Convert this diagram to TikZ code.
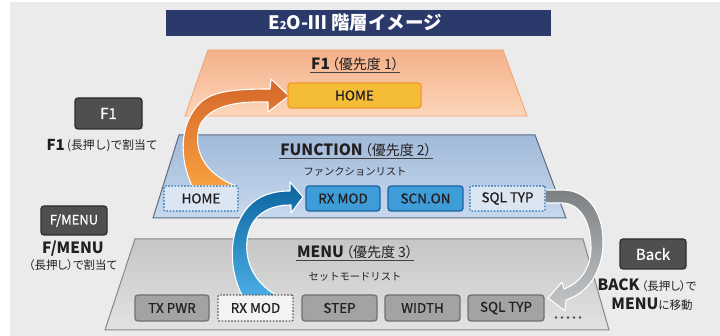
\documentclass[tikz,border=0pt]{standalone}
\usepackage{fontspec}
\setmainfont{Noto Sans CJK JP}
\newfontfamily\pp[RawFeature=+palt]{Noto Sans CJK JP}
\newfontfamily\med[FakeBold=0.6]{Noto Sans CJK JP}
\definecolor{bgc}{HTML}{EBEBEB}
\definecolor{navy}{HTML}{2B3A6B}
\definecolor{orTop}{HTML}{F3B08A}
\definecolor{orBot}{HTML}{FDD6B9}
\definecolor{orEdge}{HTML}{F4A26C}
\definecolor{blTop}{HTML}{A0BAD9}
\definecolor{blBot}{HTML}{C8D8EE}
\definecolor{blEdge}{HTML}{5D6B86}
\definecolor{grTop}{HTML}{C6C6C6}
\definecolor{grBot}{HTML}{E2E2E2}
\definecolor{grEdge}{HTML}{8E8480}
\definecolor{txt}{HTML}{231F20}
\definecolor{yel}{HTML}{F4BC37}
\definecolor{yelEdge}{HTML}{F39A2C}
\definecolor{bluFill}{HTML}{3E9CD8}
\definecolor{bluEdge}{HTML}{1A64A0}
\definecolor{dotFill}{HTML}{DCE6F2}
\definecolor{dotEdge}{HTML}{1C75BC}
\definecolor{gbFill}{HTML}{A3A3A3}
\definecolor{gbEdge}{HTML}{6F6F6F}
\definecolor{keyFill}{HTML}{4F4F4F}
\definecolor{keyEdge}{HTML}{2E2E2E}
\definecolor{aoTop}{HTML}{D5662A}
\definecolor{aoBot}{HTML}{F7A040}
\definecolor{abTop}{HTML}{0B649E}
\definecolor{abBot}{HTML}{4BAEE5}
\definecolor{agTop}{HTML}{7D8083}
\definecolor{agBot}{HTML}{C4C8CB}
\begin{document}
\begin{tikzpicture}[x=1pt,y=-1pt,
  box/.style={rounded corners=3pt, minimum height=25pt, minimum width=74pt, line width=1.3pt, inner sep=0pt, text=txt, font=\med\fontsize{13.5}{14}\selectfont},
  homebox/.style={box, fill=yel, draw=yelEdge, minimum width=133pt},
  bluebox/.style={box, fill=bluFill, draw=bluEdge},
  dotblue/.style={box, fill=dotFill, draw=dotEdge, dash pattern=on 1.6pt off 1.6pt, rounded corners=1pt},
  graybox/.style={box, fill=gbFill, draw=gbEdge, minimum height=26pt},
  dotgray/.style={box, fill=bgc!60!white, draw=gbEdge!80!black, dash pattern=on 1.6pt off 1.6pt, rounded corners=1pt, minimum height=26pt},
  keybox/.style={rounded corners=3pt, fill=keyFill, draw=keyEdge, line width=1.3pt, text=white, minimum width=66pt, minimum height=30pt, inner sep=0pt},
  lt/.style={text=txt, inner xsep=1pt, inner ysep=2pt, font=\pp\fontsize{14}{15}\selectfont},
  sub/.style={text=txt, inner sep=0pt, font=\fontsize{10.3}{11}\selectfont},
  side/.style={text=txt, inner sep=0pt, align=center},
  ul/.style={draw=txt!85, line width=0.9pt},
  blockarrow/.style={draw=white, line width=1.1pt, line join=round}
]
\useasboundingbox (0,0) rectangle (720,336);
\fill[white] (0,0) rectangle (720,336);
\fill[bgc] (10,2) rectangle (720,336);

% title
\fill[navy] (166,10) rectangle (551,36);
\node[text=white, font=\bfseries\fontsize{18.5}{18}\selectfont, inner sep=0pt] (title) at (355,23) {E{\fontsize{11}{11}\selectfont 2}O-Ⅲ 階層イメージ};

% layers
\shadedraw[top color=orTop, bottom color=orBot, draw=orEdge, line width=0.8pt] (208,50) -- (503,50) -- (527,116) -- (185,116) -- cycle;
\shadedraw[top color=blTop, bottom color=blBot, draw=blEdge, line width=1pt] (179,135) -- (535,135) -- (566,218) -- (153,218) -- cycle;
\shadedraw[top color=grTop, bottom color=grBot, draw=grEdge, line width=1pt] (135,239) -- (583,239) -- (609,330) -- (105,330) -- cycle;

% layer titles
\node[lt] (t1) at (355,64) {{\bfseries\fontsize{15.5}{15}\selectfont F1}\hspace{2pt}（優先度 1）};
\draw[ul] (t1.south west) -- (t1.south east);
\node[lt] (t2) at (356,150) {{\bfseries\fontsize{15.5}{15}\selectfont FUNCTION}\hspace{2pt}（優先度 2）};
\draw[ul] (t2.south west) -- (t2.south east);
\node[sub] (s2) at (355,172) {ファンクションリスト};
\node[lt] (t3) at (355,252) {{\bfseries\fontsize{15.5}{15}\selectfont MENU}\hspace{2pt}（優先度 3）};
\draw[ul] (t3.south west) -- (t3.south east);
\node[sub] (s3) at (355,277) {セットモードリスト};

% block arrows
\shadedraw[blockarrow, top color=aoTop, bottom color=aoBot]
  (192,186) .. controls (180,160) and (178,125) .. (200,103)
  .. controls (212,92) and (230,89) .. (270,89) -- (271,79) -- (289,96) -- (268,112) -- (268,102)
  .. controls (235,101) and (210,106) .. (200,125)
  .. controls (193,145) and (200,172) .. (236,186) -- cycle;
\shadedraw[blockarrow, top color=abTop, bottom color=abBot]
  (243,297) .. controls (228,270) and (228,230) .. (248,207)
  .. controls (258,196) and (272,191) .. (290,191) -- (290,182) -- (303,197) -- (291,213) -- (291,205)
  .. controls (272,205) and (258,212) .. (251,226)
  .. controls (242,245) and (245,280) .. (280,297) -- cycle;
\shadedraw[blockarrow, top color=agTop, bottom color=agBot]
  (545,190) -- (562,190) .. controls (590,190) and (604,215) .. (603,245)
  .. controls (602,272) and (588,293) .. (566,300) -- (565,311) -- (548,298) -- (562,282) -- (564,289)
  .. controls (580,283) and (591,268) .. (591,248)
  .. controls (591,222) and (580,203) .. (562,203) -- (545,203) -- cycle;

% F1 layer
\node[homebox] (home1) at (354.5,95.5) {HOME};
% function layer
\node[dotblue] (home2) at (201,198.5) {HOME};
\node[bluebox] (rx2) at (343,198.5) {RX MOD};
\node[bluebox, minimum width=75pt] (scn2) at (425.5,198.5) {SCN.ON};
\node[dotblue, minimum width=75pt] (sql2) at (507.5,198.5) {SQL TYP};
% menu layer
\node[graybox] (tx3) at (172,308) {TX PWR};
\node[dotgray, minimum width=75pt] (rx3) at (255.5,308) {RX MOD};
\node[graybox, minimum width=75pt] (step3) at (339.5,308) {STEP};
\node[graybox, minimum width=75pt] (wid3) at (422.5,308) {WIDTH};
\node[graybox, minimum width=76pt] (sql3) at (506,308) {SQL TYP};
\foreach \i in {0,...,4} \fill[txt!80] (556+6*\i,317.5) circle (1.4);

% keys
\node[keybox, minimum width=67pt, minimum height=31pt, font=\med\fontsize{15}{15}\selectfont] (kf1) at (108.5,113.5) {F1};
\node[side, anchor=east, font=\bfseries\fontsize{15}{15}\selectfont] (lf1a) at (65,145) {F1};
\node[side, anchor=west, font=\fontsize{11.8}{12}\selectfont] (lf1b) at (67,145.5) {(長押し)で割当て};
\node[keybox, minimum height=29pt, font=\med\fontsize{13}{13}\selectfont] (kfm) at (74,220.5) {F/MENU};
\node[side, font=\bfseries\fontsize{15.5}{15}\selectfont] (lfm1) at (73,249) {F/MENU};
\node[side, font=\pp\fontsize{11.5}{12}\selectfont] (lfm2) at (73,265.5) {（長押し）で割当て};
\node[keybox, font=\med\fontsize{15}{15}\selectfont] (kbk) at (653,254) {Back};
\node[side] (lbk1) at (647,285) {{\bfseries\fontsize{15.5}{15}\selectfont BACK}\hspace{2pt}{\pp\fontsize{11.5}{12}\selectfont（長押し）で}};
\node[side] (lbk2) at (652,304) {{\bfseries\fontsize{15.5}{15}\selectfont MENU}{\pp\fontsize{11.5}{12}\selectfont に移動}};
\end{tikzpicture}
\end{document}
